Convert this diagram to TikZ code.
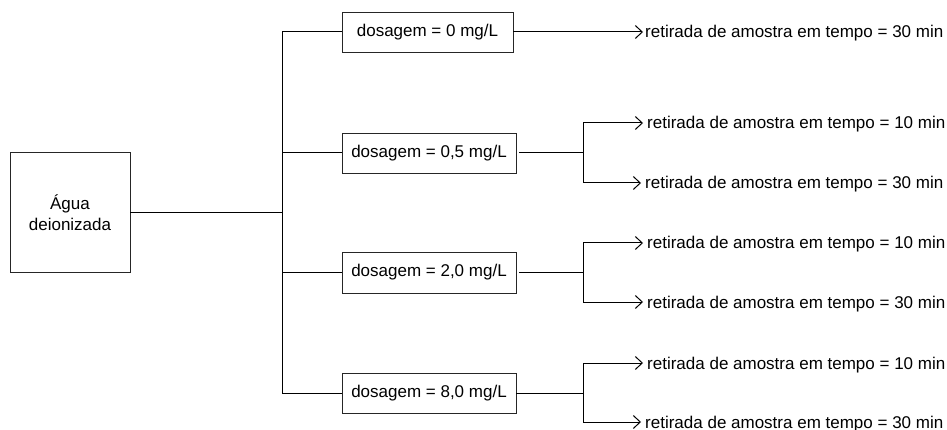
\documentclass[tikz,border=0pt]{standalone}
\usepackage{fontspec}
\setmainfont{Liberation Sans}
\usetikzlibrary{arrows.meta}
\begin{document}
\begin{tikzpicture}[x=1pt,y=-1pt,
  font=\fontsize{17}{21}\selectfont,
  box/.style={draw=black!85, line width=0.9pt, rectangle, inner sep=0pt, align=center},
  link/.style={draw=black, line width=1pt},
  arr/.style={link, -{Straight Barb[length=7pt,width=13pt,line width=1pt]}},
  lbl/.style={anchor=west, inner sep=0pt, text height=12pt, text depth=0pt}
]
\useasboundingbox (0,0) rectangle (947,430);

% source and dosage boxes
\node[box, minimum width=120pt, minimum height=120pt] (agua) at (70,212.5) {Água\\deionizada};
\node[box, minimum width=171pt, minimum height=40pt] (b0)  at (427.5,32)  {dosagem = 0 mg/L};
\node[box, minimum width=174pt, minimum height=40pt] (b05) at (429,153)   {dosagem = 0,5 mg/L};
\node[box, minimum width=174pt, minimum height=41pt] (b2)  at (429,272.5) {dosagem = 2,0 mg/L};
\node[box, minimum width=174pt, minimum height=40pt] (b8)  at (429,393)   {dosagem = 8,0 mg/L};

% sampling labels
\node[lbl] (t0)  at (645,32)  {retirada de amostra em tempo = 30 min};
\node[lbl] (t05a) at (647,123) {retirada de amostra em tempo = 10 min};
\node[lbl] (t05b) at (645,183) {retirada de amostra em tempo = 30 min};
\node[lbl] (t2a) at (647,243) {retirada de amostra em tempo = 10 min};
\node[lbl] (t2b) at (647,302) {retirada de amostra em tempo = 30 min};
\node[lbl] (t8a) at (647,363) {retirada de amostra em tempo = 10 min};
\node[lbl] (t8b) at (645,422) {retirada de amostra em tempo = 30 min};

% trunk
\coordinate (hub) at (282,212.5);
\coordinate (top) at (282,32);
\coordinate (bot) at (282,393);
\draw[link] (agua.east) -- (hub);
\draw[link] (b0.west) -- (top) -- (bot) -- (b8.west);
\draw[link] (hub |- b05) -- (b05.west);
\draw[link] (hub |- b2) -- (b2.west);

% branch points
\coordinate (k05) at (583,153);
\coordinate (k2)  at (583,272.5);
\coordinate (k8)  at (583,393);
\draw[link] ([xshift=3pt]b05.east) -- (k05);
\draw[link] ([xshift=3pt]b2.east) -- (k2);
\draw[link] (b8.east) -- (k8);

% arrows to sampling labels
\draw[arr, shorten >=2pt] (b0.east) -- (t0);
\draw[arr, shorten >=4pt] (k05) |- (t05a);
\draw[arr, shorten >=4pt] (k05) |- (t05b);
\draw[arr, shorten >=4pt] (k2) |- (t2a);
\draw[arr, shorten >=4pt] (k2) |- (t2b);
\draw[arr, shorten >=4pt] (k8) |- (t8a);
\draw[arr, shorten >=4pt] (k8) |- (t8b);
\end{tikzpicture}
\end{document}
